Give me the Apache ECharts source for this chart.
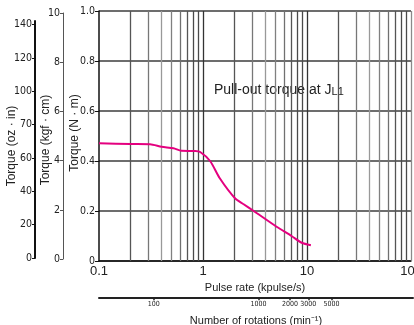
<!DOCTYPE html>
<html><head><meta charset="utf-8">
<script src="https://cdn.jsdelivr.net/npm/echarts@6/dist/echarts.min.js"></script>
<style>html,body{margin:0;padding:0;background:#fff}#c{width:414px;height:325px}</style>
</head><body><div id="c"></div>
<script>
// ---- data ----
const pulseRate = [0.1, 0.2, 0.31, 0.4, 0.52, 0.62, 0.84, 0.94, 1.17, 1.45, 2.03, 2.44, 3.05, 5.1, 7.1, 8.9, 10.9];
const torqueNm  = [0.471, 0.468, 0.467, 0.457, 0.451, 0.441, 0.44, 0.436, 0.40, 0.331, 0.251, 0.228, 0.201, 0.137, 0.10, 0.073, 0.063];
const nmRange = [0, 1];
const kgfRange = [0, 10];
const ozTicks = [0, 20, 40, 60, 80, 100, 120, 140];
const ozTickLabels = ['0', '20', '40', '60', '70', '100', '120', '140'];
const pulseRange = [0.1, 100];
const pulseGridLines = [0.2, 0.3, 0.4, 0.5, 0.6, 0.7, 0.8, 0.9, 1,
                        2, 3, 4, 5, 6, 7, 8, 9, 10,
                        20, 30, 40, 50, 60, 70, 80, 90, 100];
const rpmRange = [30, 30000];
const rpmTicks = [100, 1000, 2000, 3000, 5000];
const titleMain = 'Pull-out torque at J';
const titleSub = 'L1';

// ---- styles ----
const FONT = "'Liberation Sans', Arial, sans-serif";
const NARROW = "'Liberation Sans Narrow', 'DejaVu Sans Condensed', 'Liberation Sans', sans-serif";
const TXT = '#222';
const mantColor = {1: '#333333', 2: '#555555', 3: '#777777', 4: '#999999', 5: '#808080', 6: '#707070', 7: '#555555', 8: '#4a4a4a', 9: '#4a4a4a'};
function lineColor(v) {
  if (v >= 100) return '#8a8a8a';
  const m = Math.round(v / Math.pow(10, Math.floor(Math.log10(v) + 1e-9)));
  return mantColor[m] || '#666';
}

const chart = echarts.init(document.getElementById('c'), null, {renderer: 'canvas'});
const curve = pulseRate.map((x, i) => [x, torqueNm[i]]);
const rpmLog = rpmTicks.map(v => Math.log10(v));

const option = {
  animation: false,
  textStyle: {fontFamily: FONT},
  grid: [
    {left: 99, top: 11, width: 312, height: 250, outerBoundsMode: 'none'},
    {left: 63, top: 13, width: 1, height: 246},
    {left: 35, top: 21, width: 1, height: 237},
    {left: 99, top: 297, width: 314, height: 1}
  ],
  xAxis: [
    {gridIndex: 0, type: 'log', logBase: 10, min: pulseRange[0], max: pulseRange[1],
     axisLine: {lineStyle: {color: '#111', width: 1.5}}, axisTick: {show: false},
     splitLine: {show: false},
     axisLabel: {fontSize: 13, color: TXT, margin: 4, fontFamily: FONT,
                 alignMinLabel: 'center', alignMaxLabel: 'center'},
     name: 'Pulse rate (kpulse/s)', nameLocation: 'middle', nameGap: 20,
     nameTextStyle: {fontSize: 11, color: TXT, fontFamily: FONT}},
    {gridIndex: 1, type: 'value', min: 0, max: 1, show: false},
    {gridIndex: 2, type: 'value', min: 0, max: 1, show: false},
    {gridIndex: 3, type: 'value', min: Math.log10(rpmRange[0]), max: Math.log10(rpmRange[1]),
     axisLine: {lineStyle: {color: '#222', width: 2}},
     axisTick: {customValues: rpmLog, length: 3, lineStyle: {color: '#222', width: 1.5}},
     axisLabel: {customValues: rpmLog, formatter: v => String(Math.round(Math.pow(10, v))),
                 fontSize: 7, color: TXT, margin: 3, fontFamily: NARROW},
     splitLine: {show: false},
     name: 'Number of rotations (min\u207B\u00B9)', nameLocation: 'middle', nameGap: 18,
     nameTextStyle: {fontSize: 11, color: TXT, fontFamily: FONT}}
  ],
  yAxis: [
    {gridIndex: 0, type: 'value', min: nmRange[0], max: nmRange[1], interval: 0.2,
     axisLine: {show: true, lineStyle: {color: '#111', width: 1.5}},
     axisTick: {show: true, length: 4, lineStyle: {color: '#111'}},
     axisLabel: {fontSize: 10.5, color: TXT, margin: 4, fontFamily: NARROW,
                 formatter: v => v === 0 ? '0' : v.toFixed(1)},
     splitLine: {show: true, lineStyle: {color: '#3c3c3c', width: 1.5}}},
    {gridIndex: 1, type: 'value', min: kgfRange[0], max: kgfRange[1], interval: 2,
     axisLine: {show: true, lineStyle: {color: '#555', width: 1}},
     axisTick: {show: true, length: 3, lineStyle: {color: '#555'}},
     axisLabel: {fontSize: 10.5, color: TXT, margin: 3, fontFamily: NARROW},
     splitLine: {show: false}},
    {gridIndex: 2, type: 'value', min: 0, max: 142.2,
     axisLine: {show: true, lineStyle: {color: '#111', width: 2}},
     axisTick: {show: true, customValues: ozTicks, length: 3, lineStyle: {color: '#111'}},
     axisLabel: {customValues: ozTicks, fontSize: 10.5, color: TXT, margin: 3, fontFamily: NARROW,
                 formatter: v => ozTickLabels[ozTicks.indexOf(v)] || String(v)},
     splitLine: {show: false}},
    {gridIndex: 3, type: 'value', min: 0, max: 1, show: false}
  ],
  graphic: [
    {type: 'text', x: 12, y: 146, rotation: Math.PI / 2,
     style: {text: 'Torque (oz \u00B7 in)', fill: TXT, font: '12px ' + FONT,
             align: 'center', verticalAlign: 'middle'}},
    {type: 'text', x: 46, y: 140, rotation: Math.PI / 2,
     style: {text: 'Torque (kgf \u00B7 cm)', fill: TXT, font: '12px ' + FONT,
             align: 'center', verticalAlign: 'middle'}},
    {type: 'text', x: 75, y: 133, rotation: Math.PI / 2,
     style: {text: 'Torque (N \u00B7 m)', fill: TXT, font: '12px ' + FONT,
             align: 'center', verticalAlign: 'middle'}},
    {type: 'text', x: 214, y: 90,
     style: {text: '{a|' + titleMain + '}{b|' + titleSub + '}', fill: TXT,
             align: 'left', verticalAlign: 'middle',
             rich: {a: {fontSize: 14, fontFamily: FONT, fill: TXT},
                    b: {fontSize: 11, fontFamily: FONT, fill: TXT, verticalAlign: 'bottom'}}}}
  ],
  series: [
    {type: 'line', name: 'grid', xAxisIndex: 0, yAxisIndex: 0, z: 1, silent: true,
     data: curve, showSymbol: false, lineStyle: {opacity: 0},
     markLine: {silent: true, symbol: ['none', 'none'], label: {show: false},
       data: pulseGridLines.map(v => ({xAxis: v, lineStyle: {color: lineColor(v), width: 1.3, type: 'solid'}}))}},
    {type: 'line', name: 'Pull-out torque', xAxisIndex: 0, yAxisIndex: 0, z: 5,
     data: curve, showSymbol: false, smooth: 0.25,
     lineStyle: {color: '#e4007f', width: 2}}
  ]
};
try {
  chart.setOption(option);
} catch (e) {
  const d = document.createElement('pre');
  d.style.cssText = 'position:absolute;left:0;top:0;font-size:9px;background:rgba(255,255,0,0.9);margin:0';
  d.textContent = 'ERR ' + e.message;
  document.body.appendChild(d);
}
</script></body></html>
